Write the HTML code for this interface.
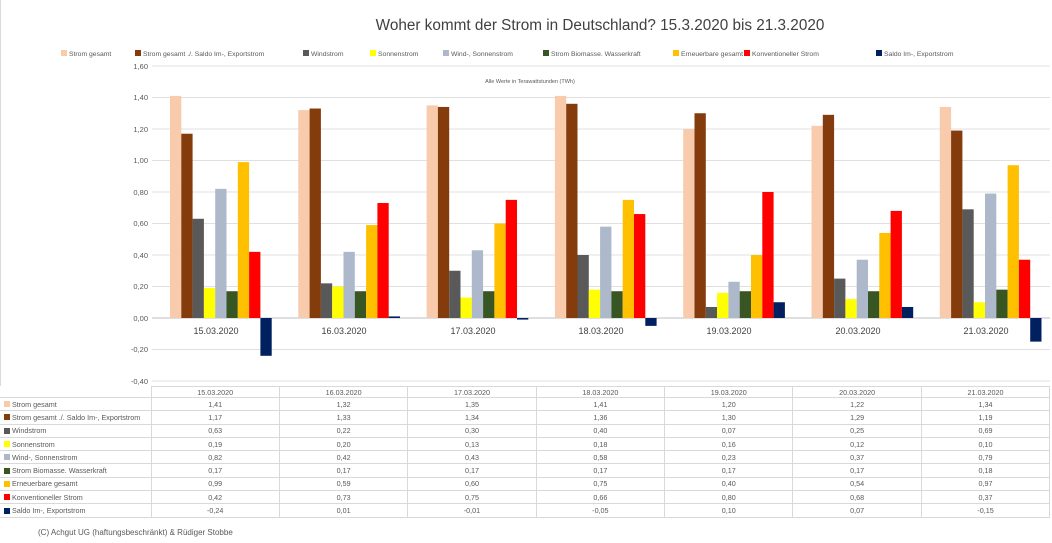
<!DOCTYPE html>
<html><head><meta charset="utf-8"><style>
body{margin:0;width:1052px;height:543px;background:#fff;font-family:"Liberation Sans",sans-serif;overflow:hidden;position:relative}
#t{position:absolute;left:0;top:386px;border-collapse:collapse;font-size:7.2px;color:#595959;table-layout:fixed}
#t td{border:1px solid #d9d9d9;padding:0;height:12.3px;text-align:center;white-space:nowrap;overflow:hidden}
#t tr.h td{height:10px}
#t td.l{text-align:left;padding-left:4px;border-left:none}
#t td.l i{display:inline-block;width:6px;height:6px;margin-right:2px;vertical-align:-0.5px}
#t tr.h td.l{border:none;border-right:1px solid #d9d9d9}
</style></head><body>
<svg id="s" width="1052" height="386" style="position:absolute;left:0;top:0" font-family="Liberation Sans, sans-serif">
<line x1="0.5" y1="0" x2="0.5" y2="543" stroke="#d9d9d9"/>
<text x="600" y="30" font-size="15.3" fill="#404040" text-anchor="middle">Woher kommt der Strom in Deutschland? 15.3.2020 bis 21.3.2020</text>
<g font-size="6.8" fill="#595959">
<rect x="61" y="50" width="6" height="6" fill="#F8CBAD"/><text x="69" y="56">Strom gesamt</text>
<rect x="135" y="50" width="6" height="6" fill="#843C0C"/><text x="143" y="56">Strom gesamt ./. Saldo Im-, Exportstrom</text>
<rect x="303" y="50" width="6" height="6" fill="#595959"/><text x="311" y="56">Windstrom</text>
<rect x="370" y="50" width="6" height="6" fill="#FFFF00"/><text x="378" y="56">Sonnenstrom</text>
<rect x="443" y="50" width="6" height="6" fill="#ADB9CA"/><text x="451" y="56">Wind-, Sonnenstrom</text>
<rect x="543" y="50" width="6" height="6" fill="#375623"/><text x="551" y="56">Strom Biomasse. Wasserkraft</text>
<rect x="673" y="50" width="6" height="6" fill="#FFC000"/><text x="681" y="56">Erneuerbare gesamt</text>
<rect x="744" y="50" width="6" height="6" fill="#FF0000"/><text x="752" y="56">Konventioneller Strom</text>
<rect x="876" y="50" width="6" height="6" fill="#002060"/><text x="884" y="56">Saldo Im-, Exportstrom</text>
</g>
<text x="530" y="83" font-size="5.5" fill="#595959" text-anchor="middle">Alle Werte in Terawattstunden (TWh)</text>
<g id="grid"></g>
<g font-size="7.5" fill="#595959" text-anchor="end">
<text x="148" y="69">1,60</text><text x="148" y="100">1,40</text><text x="148" y="132">1,20</text><text x="148" y="163">1,00</text><text x="148" y="195">0,80</text><text x="148" y="226">0,60</text><text x="148" y="258">0,40</text><text x="148" y="289">0,20</text><text x="148" y="321">0,00</text><text x="148" y="352">-0,20</text><text x="148" y="384">-0,40</text>
</g>
<g id="bars"></g>
<g font-size="9" fill="#404040" text-anchor="middle">
<text x="216" y="334">15.03.2020</text><text x="344" y="334">16.03.2020</text><text x="473" y="334">17.03.2020</text><text x="601" y="334">18.03.2020</text><text x="729" y="334">19.03.2020</text><text x="858" y="334">20.03.2020</text><text x="986" y="334">21.03.2020</text>
</g>
</svg>
<table id="t">
<colgroup><col style="width:151px"><col style="width:128.4px"><col style="width:128.4px"><col style="width:128.4px"><col style="width:128.4px"><col style="width:128.4px"><col style="width:128.4px"><col style="width:128.4px"></colgroup>
<tr class="h"><td class="l"></td><td>15.03.2020</td><td>16.03.2020</td><td>17.03.2020</td><td>18.03.2020</td><td>19.03.2020</td><td>20.03.2020</td><td>21.03.2020</td></tr>
<tr><td class="l"><i style="background:#F8CBAD"></i>Strom gesamt</td><td>1,41</td><td>1,32</td><td>1,35</td><td>1,41</td><td>1,20</td><td>1,22</td><td>1,34</td></tr>
<tr><td class="l"><i style="background:#843C0C"></i>Strom gesamt ./. Saldo Im-, Exportstrom</td><td>1,17</td><td>1,33</td><td>1,34</td><td>1,36</td><td>1,30</td><td>1,29</td><td>1,19</td></tr>
<tr><td class="l"><i style="background:#595959"></i>Windstrom</td><td>0,63</td><td>0,22</td><td>0,30</td><td>0,40</td><td>0,07</td><td>0,25</td><td>0,69</td></tr>
<tr><td class="l"><i style="background:#FFFF00"></i>Sonnenstrom</td><td>0,19</td><td>0,20</td><td>0,13</td><td>0,18</td><td>0,16</td><td>0,12</td><td>0,10</td></tr>
<tr><td class="l"><i style="background:#ADB9CA"></i>Wind-, Sonnenstrom</td><td>0,82</td><td>0,42</td><td>0,43</td><td>0,58</td><td>0,23</td><td>0,37</td><td>0,79</td></tr>
<tr><td class="l"><i style="background:#375623"></i>Strom Biomasse. Wasserkraft</td><td>0,17</td><td>0,17</td><td>0,17</td><td>0,17</td><td>0,17</td><td>0,17</td><td>0,18</td></tr>
<tr><td class="l"><i style="background:#FFC000"></i>Erneuerbare gesamt</td><td>0,99</td><td>0,59</td><td>0,60</td><td>0,75</td><td>0,40</td><td>0,54</td><td>0,97</td></tr>
<tr><td class="l"><i style="background:#FF0000"></i>Konventioneller Strom</td><td>0,42</td><td>0,73</td><td>0,75</td><td>0,66</td><td>0,80</td><td>0,68</td><td>0,37</td></tr>
<tr><td class="l"><i style="background:#002060"></i>Saldo Im-, Exportstrom</td><td>-0,24</td><td>0,01</td><td>-0,01</td><td>-0,05</td><td>0,10</td><td>0,07</td><td>-0,15</td></tr>
</table>
<div style="position:absolute;left:38px;top:528px;font-size:8px;color:#595959">(C) Achgut UG (haftungsbeschränkt) &amp; Rüdiger Stobbe</div>
<script>
var ns="http://www.w3.org/2000/svg";
var cols=["#F8CBAD","#843C0C","#595959","#FFFF00","#ADB9CA","#375623","#FFC000","#FF0000","#002060"];
var d=[[1.41,1.32,1.35,1.41,1.20,1.22,1.34],[1.17,1.33,1.34,1.36,1.30,1.29,1.19],[.63,.22,.30,.40,.07,.25,.69],[.19,.20,.13,.18,.16,.12,.10],[.82,.42,.43,.58,.23,.37,.79],[.17,.17,.17,.17,.17,.17,.18],[.99,.59,.60,.75,.40,.54,.97],[.42,.73,.75,.66,.80,.68,.37],[-.24,.01,-.01,-.05,.10,.07,-.15]];
function Y(v){return 318-v*157.5;}
var g=document.getElementById("grid");
for(var k=0;k<11;k++){var v=1.6-k*0.2;var l=document.createElementNS(ns,"line");l.setAttribute("x1",152);l.setAttribute("x2",1050);l.setAttribute("y1",Y(v));l.setAttribute("y2",Y(v));l.setAttribute("stroke",Math.abs(v)<1e-6?"#bfbfbf":"#e0e0e0");l.setAttribute("stroke-width",1);g.appendChild(l);}
var b=document.getElementById("bars");
for(var s=0;s<9;s++)for(var i=0;i<7;i++){var v=d[s][i];var x=152+i*128.3+18+s*11.3;var r=document.createElementNS(ns,"rect");r.setAttribute("x",x);r.setAttribute("width",11.3);var y0=Y(0),y1=Y(v);r.setAttribute("y",Math.min(y0,y1));r.setAttribute("height",Math.abs(y1-y0));r.setAttribute("fill",cols[s]);b.appendChild(r);}
</script>
</body></html>
